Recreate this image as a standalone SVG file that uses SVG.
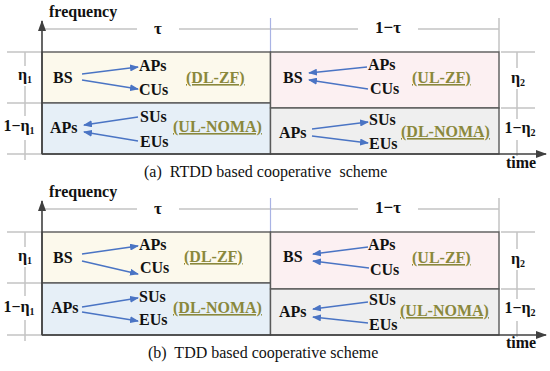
<svg xmlns="http://www.w3.org/2000/svg" width="550" height="371" viewBox="0 0 550 371">
<style>
text{font-family:"Liberation Serif","Times New Roman",serif;fill:#111}
.b{font-weight:bold;font-size:16px}
.g{font-weight:bold;font-size:17px}
.lab{font-weight:bold;font-size:16px;fill:#8a883c;text-decoration:underline}
.cap{font-size:16px}
.dim{stroke:#c4c4c4;stroke-width:1.5;fill:none}
.vb{stroke:#a9b3e4;stroke-width:1.2}
.ax{stroke:#404040;stroke-width:1.6;fill:none}
.bx{stroke:#5a5a5a;stroke-width:1.4}
.c{stroke:#4a74c4;stroke-width:1.5;fill:none;marker-end:url(#ah)}
.sub{font-size:10px}
</style>
<defs>
<marker id="ah" markerUnits="userSpaceOnUse" markerWidth="9" markerHeight="7" refX="8" refY="3.5" orient="auto">
<path d="M0,0 L9,3.5 L0,7 Z" fill="#4a74c4"/>
</marker>
<marker id="axa" markerUnits="userSpaceOnUse" markerWidth="11" markerHeight="8" refX="10" refY="4" orient="auto">
<path d="M0,0 L11,4 L0,8 Z" fill="#404040"/>
</marker>
</defs>
<rect width="550" height="371" fill="#fff"/>

<!-- ===== Panel (a) ===== -->
<g id="panel-a-dims">
<path class="dim" d="M43,29 H137 M179,29 H358 M418,29 H499 M499,18 V52"/>
<path class="vb" d="M270.5,18 V52"/>
<path class="dim" d="M7,52 H41 M7,103 H41 M7,154 H41 M25,52 V66 M25,86 V116 M25,140 V160"/>
<path class="dim" d="M501,52 H535 M501,108 H535 M517,52 V68 M517,89 V119 M517,140 V156"/>
</g>
<g id="a-box-tl"><rect class="bx" x="42" y="52" width="228.5" height="51" fill="#fcf9ec"/></g>
<g id="a-box-bl"><rect class="bx" x="42" y="103" width="228.5" height="51" fill="#e6eff7"/></g>
<g id="a-box-tr"><rect class="bx" x="270.5" y="52" width="228.5" height="56" fill="#fcf0f2"/></g>
<g id="a-box-br"><rect class="bx" x="270.5" y="108" width="228.5" height="46" fill="#efefef"/></g>
<g id="a-axes">
<path class="ax" d="M42,154 V21" marker-end="url(#axa)"/>
<path class="ax" d="M42,154 H546" marker-end="url(#axa)"/>
</g>
<g id="a-labels">
<text class="b" x="49" y="17">frequency</text>
<text class="g" x="158" y="34" text-anchor="middle">τ</text>
<text class="g" x="388" y="33" text-anchor="middle">1−τ</text>
<text class="b" x="25" y="80" text-anchor="middle">η<tspan class="sub" dy="3">1</tspan></text>
<text class="b" x="19" y="131" text-anchor="middle">1−η<tspan class="sub" dy="3">1</tspan></text>
<text class="b" x="518" y="83" text-anchor="middle">η<tspan class="sub" dy="3">2</tspan></text>
<text class="b" x="520" y="133" text-anchor="middle">1−η<tspan class="sub" dy="3">2</tspan></text>
<text class="b" x="506" y="168">time</text>
<text class="cap" x="144" y="177" xml:space="preserve">(a)  RTDD based cooperative  scheme</text>
</g>
<g id="a-tl-nodes">
<text class="b" x="53" y="83">BS</text>
<text class="b" x="139" y="71">APs</text>
<text class="b" x="139" y="95">CUs</text>
<text class="lab" x="186" y="83">(DL-ZF)</text>
</g>
<g id="a-bl-nodes">
<text class="b" x="50" y="133">APs</text>
<text class="b" x="140" y="122">SUs</text>
<text class="b" x="140" y="147">EUs</text>
<text class="lab" x="173" y="132">(UL-NOMA)</text>
</g>
<g id="a-tr-nodes">
<text class="b" x="283" y="83">BS</text>
<text class="b" x="368" y="70">APs</text>
<text class="b" x="370" y="94">CUs</text>
<text class="lab" x="412" y="83">(UL-ZF)</text>
</g>
<g id="a-br-nodes">
<text class="b" x="279" y="138">APs</text>
<text class="b" x="369" y="125">SUs</text>
<text class="b" x="369" y="149">EUs</text>
<text class="lab" x="401" y="137">(DL-NOMA)</text>
</g>

<!-- ===== Panel (b) ===== -->
<g id="panel-b-dims">
<path class="dim" d="M43,209 H137 M179,209 H358 M418,209 H499 M499,198 V232"/>
<path class="vb" d="M270.5,198 V232"/>
<path class="dim" d="M7,232 H41 M7,283 H41 M7,335 H41 M25,232 V247 M25,267 V296 M25,320 V341"/>
<path class="dim" d="M501,232 H535 M501,289 H535 M517,232 V249 M517,270 V299 M517,321 V337"/>
</g>
<g id="b-box-tl"><rect class="bx" x="42" y="232" width="228.5" height="51" fill="#fcf9ec"/></g>
<g id="b-box-bl"><rect class="bx" x="42" y="283" width="228.5" height="52" fill="#e6eff7"/></g>
<g id="b-box-tr"><rect class="bx" x="270.5" y="232" width="228.5" height="57" fill="#fcf0f2"/></g>
<g id="b-box-br"><rect class="bx" x="270.5" y="289" width="228.5" height="46" fill="#efefef"/></g>
<g id="b-axes">
<path class="ax" d="M42,335 V201" marker-end="url(#axa)"/>
<path class="ax" d="M42,335 H546" marker-end="url(#axa)"/>
</g>
<g id="b-labels">
<text class="b" x="49" y="197">frequency</text>
<text class="g" x="158" y="214" text-anchor="middle">τ</text>
<text class="g" x="388" y="213" text-anchor="middle">1−τ</text>
<text class="b" x="25" y="261" text-anchor="middle">η<tspan class="sub" dy="3">1</tspan></text>
<text class="b" x="19" y="312" text-anchor="middle">1−η<tspan class="sub" dy="3">1</tspan></text>
<text class="b" x="518" y="264" text-anchor="middle">η<tspan class="sub" dy="3">2</tspan></text>
<text class="b" x="520" y="313" text-anchor="middle">1−η<tspan class="sub" dy="3">2</tspan></text>
<text class="b" x="506" y="348">time</text>
<text class="cap" x="148" y="358" xml:space="preserve">(b)  TDD based cooperative scheme</text>
</g>
<g id="b-tl-nodes">
<text class="b" x="53" y="263">BS</text>
<text class="b" x="139" y="250">APs</text>
<text class="b" x="140" y="273">CUs</text>
<text class="lab" x="184" y="262">(DL-ZF)</text>
</g>
<g id="b-bl-nodes">
<text class="b" x="51" y="313">APs</text>
<text class="b" x="139" y="302">SUs</text>
<text class="b" x="139" y="325">EUs</text>
<text class="lab" x="173" y="313">(DL-NOMA)</text>
</g>
<g id="b-tr-nodes">
<text class="b" x="283" y="262">BS</text>
<text class="b" x="368" y="250">APs</text>
<text class="b" x="370" y="275">CUs</text>
<text class="lab" x="412" y="263">(UL-ZF)</text>
</g>
<g id="b-br-nodes">
<text class="b" x="279" y="317">APs</text>
<text class="b" x="369" y="305">SUs</text>
<text class="b" x="369" y="330">EUs</text>
<text class="lab" x="400" y="316">(UL-NOMA)</text>
</g>

<g id="connectors">
<!-- panel a -->
<line class="c" x1="82" y1="74" x2="138" y2="67"/>
<line class="c" x1="82" y1="80" x2="138" y2="89"/>
<line class="c" x1="138" y1="117" x2="84" y2="125"/>
<line class="c" x1="138" y1="141" x2="84" y2="132"/>
<line class="c" x1="367" y1="67" x2="309" y2="73"/>
<line class="c" x1="368" y1="89" x2="309" y2="80"/>
<line class="c" x1="312" y1="129" x2="368" y2="122"/>
<line class="c" x1="312" y1="136" x2="368" y2="143"/>
<!-- panel b -->
<line class="c" x1="82" y1="254" x2="138" y2="246"/>
<line class="c" x1="82" y1="261" x2="138" y2="274"/>
<line class="c" x1="82" y1="307" x2="138" y2="298"/>
<line class="c" x1="82" y1="312" x2="138" y2="321"/>
<line class="c" x1="368" y1="247" x2="313" y2="254"/>
<line class="c" x1="369" y1="268" x2="313" y2="261"/>
<line class="c" x1="368" y1="302" x2="313" y2="309"/>
<line class="c" x1="368" y1="323" x2="313" y2="317"/>
</g>
</svg>
